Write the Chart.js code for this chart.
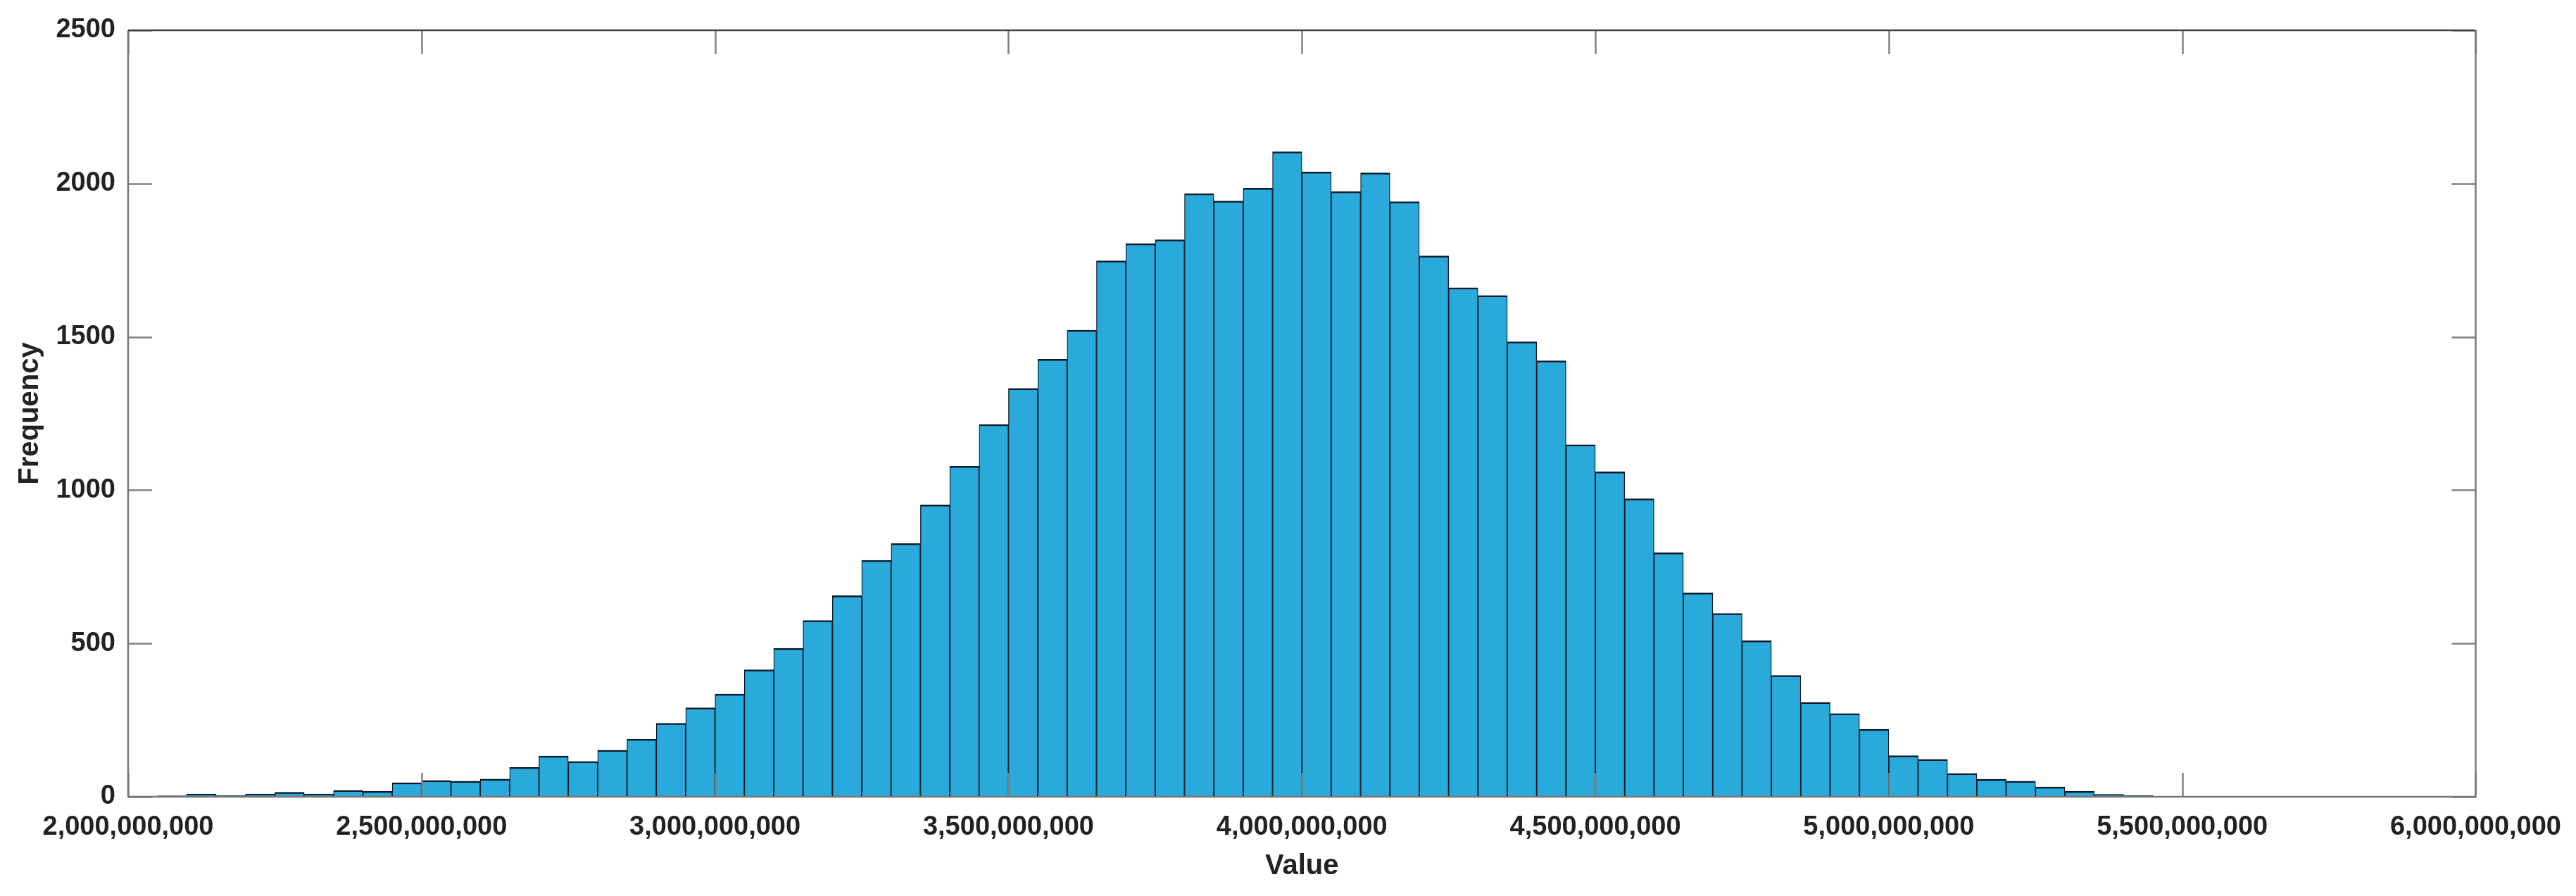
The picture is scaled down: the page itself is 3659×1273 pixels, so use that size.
<!DOCTYPE html>
<html>
<head>
<meta charset="utf-8">
<script src="https://cdn.jsdelivr.net/npm/chart.js@4.4.1/dist/chart.umd.min.js"></script>
<style>
  html, body { margin: 0; padding: 0; background: #ffffff; }
  #wrap { width: 3659px; height: 1273px; position: relative; }
</style>
</head>
<body>
<div id="wrap"><canvas id="c" width="3659" height="1273"></canvas></div>
<script>
// ---- Data (histogram of values, bin width 50,000,000) ----
const binStart = 2000000000;
const binWidth = 50000000;
const counts = [
  2, 3, 9, 4, 9, 15, 9, 21, 18, 46,
  53, 51, 58, 96, 133, 115, 152, 188, 240, 290,
  335, 414, 484, 575, 656, 771, 826, 952, 1078, 1214,
  1332, 1427, 1522, 1748, 1804, 1817, 1967, 1943, 1985, 2104,
  2038, 1974, 2035, 1941, 1764, 1660, 1635, 1484, 1422, 1148,
  1060, 972, 796, 665, 598, 509, 396, 308, 271, 220,
  134, 122, 76, 57, 51, 32, 18, 8, 4
];
const xTickValues = [2000000000, 2500000000, 3000000000, 3500000000, 4000000000,
                     4500000000, 5000000000, 5500000000, 6000000000];
const xTickLabels = ['2,000,000,000', '2,500,000,000', '3,000,000,000', '3,500,000,000',
                     '4,000,000,000', '4,500,000,000', '5,000,000,000', '5,500,000,000',
                     '6,000,000,000'];
const yTickValues = [0, 500, 1000, 1500, 2000, 2500];
const yTickLabels = ['0', '500', '1000', '1500', '2000', '2500'];
const xTitle = 'Value';
const yTitle = 'Frequency';

const points = counts.map((c, i) => ({ x: binStart + binWidth * (i + 0.5), y: c }));

const FONT = "'Liberation Sans', Arial, Helvetica, sans-serif";
const TEXT = '#222222';

const framePlugin = {
  id: 'matlabFrame',
  afterDatasetsDraw(chart) {
    const { ctx, chartArea: a, scales } = chart;
    const xs = scales.x, ys = scales.y;
    const tl = 34;
    ctx.save();
    ctx.lineWidth = 2.5;
    ctx.strokeStyle = '#808080';
    ctx.beginPath();
    xTickValues.forEach(v => {
      const px = Math.round(xs.getPixelForValue(v)) + 0.5;
      ctx.moveTo(px, a.bottom); ctx.lineTo(px, a.bottom - tl);
      ctx.moveTo(px, a.top); ctx.lineTo(px, a.top + tl);
    });
    yTickValues.forEach(v => {
      const py = Math.round(ys.getPixelForValue(v)) + 0.5;
      ctx.moveTo(a.left, py); ctx.lineTo(a.left + tl, py);
      ctx.moveTo(a.right, py); ctx.lineTo(a.right - tl, py);
    });
    ctx.stroke();
    ctx.lineWidth = 2.5;
    ctx.strokeStyle = '#777777';
    ctx.beginPath();
    ctx.moveTo(a.left, a.top); ctx.lineTo(a.left, a.bottom); ctx.lineTo(a.right, a.bottom); ctx.lineTo(a.right, a.top);
    ctx.stroke();
    ctx.strokeStyle = '#444444';
    ctx.beginPath();
    ctx.moveTo(a.left, a.top); ctx.lineTo(a.right, a.top);
    ctx.stroke();
    ctx.restore();
  }
};

new Chart(document.getElementById('c'), {
  type: 'bar',
  data: {
    datasets: [{
      data: points,
      backgroundColor: '#2aaadb',
      borderColor: '#0a1828',
      borderWidth: { top: 2.5, left: 1.3, right: 1.3, bottom: 0 },
      borderSkipped: false,
      barPercentage: 1.0,
      categoryPercentage: 1.0
    }]
  },
  options: {
    responsive: false,
    animation: false,
    devicePixelRatio: 1,
    layout: { padding: { top: 43, right: 136, left: 0, bottom: 0 } },
    plugins: { legend: { display: false }, tooltip: { enabled: false } },
    scales: {
      x: {
        type: 'linear',
        min: 2000000000,
        max: 6000000000,
        offset: false,
        grid: { display: false, drawTicks: false, offset: false },
        border: { display: false },
        afterBuildTicks: (s) => { s.ticks = xTickValues.map(v => ({ value: v })); },
        ticks: {
          autoSkip: false,
          maxRotation: 0,
          padding: 21,
          color: TEXT,
          font: { family: FONT, size: 38, weight: 'bold', lineHeight: 1.2 },
          callback: (v) => { const i = xTickValues.indexOf(v); return i >= 0 ? xTickLabels[i] : ''; }
        },
        title: {
          display: true, text: xTitle, color: TEXT,
          font: { family: FONT, size: 40, weight: 'bold', lineHeight: 1 },
          padding: { top: 0, bottom: 22 }
        },
        afterFit: (s) => { s.height = 141; }
      },
      y: {
        min: 0,
        max: 2500,
        grid: { display: false, drawTicks: false },
        border: { display: false },
        afterBuildTicks: (s) => { s.ticks = yTickValues.map(v => ({ value: v })); },
        ticks: {
          padding: 18,
          color: TEXT,
          font: { family: FONT, size: 38, weight: 'bold', lineHeight: 1.2 },
          callback: (v) => { const i = yTickValues.indexOf(v); return i >= 0 ? yTickLabels[i] : ''; }
        },
        title: {
          display: true, text: yTitle, color: TEXT,
          font: { family: FONT, size: 40, weight: 'bold', lineHeight: 1 },
          padding: { top: 23, bottom: 0 }
        },
        afterFit: (s) => { s.width = 182; }
      }
    }
  },
  plugins: [framePlugin]
});
</script>
</body>
</html>
